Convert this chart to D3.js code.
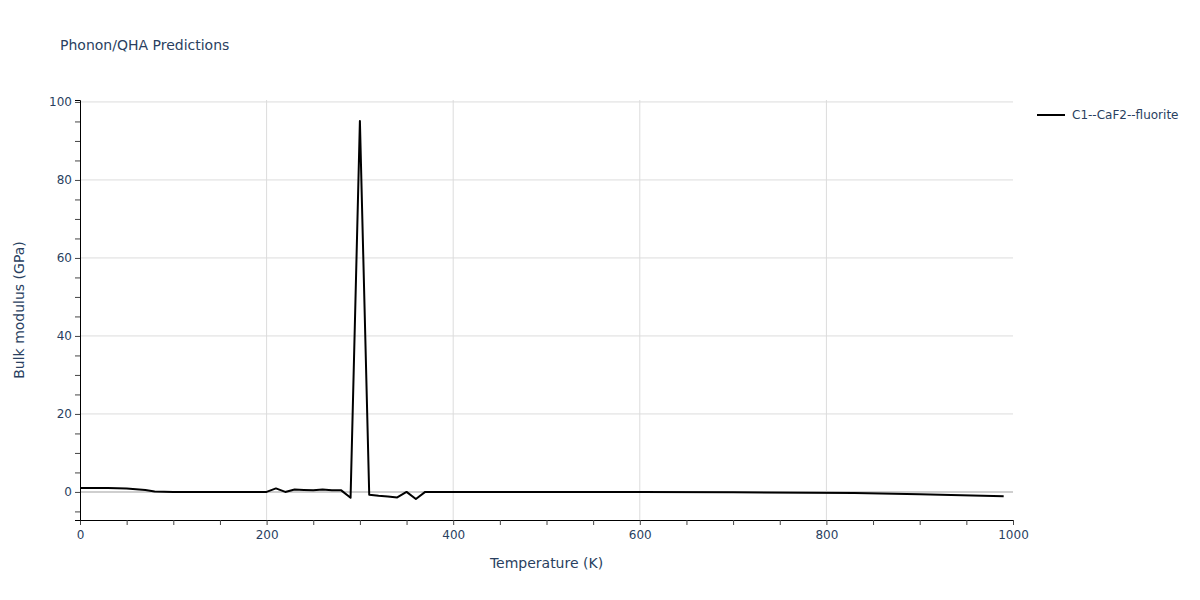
<!DOCTYPE html>
<html>
<head>
<meta charset="utf-8">
<script src="https://cdn.jsdelivr.net/npm/d3@7"></script>
<style>
  body { margin: 0; background: #fff; }
  text { font-family: "DejaVu Sans", verdana, sans-serif; fill: #2a3f5f; }
</style>
</head>
<body>
<script>
// temperatures (K) and bulk modulus (GPa)
var temps = [0, 10, 20, 30, 40, 50, 60, 70, 80, 90, 100, 150, 200, 210, 220, 230, 240, 250,
  260, 270, 280, 290, 300, 310, 320, 330, 340, 350, 360, 370, 400, 500, 600, 700, 830, 900, 990];
var bulk = [1.0, 1.0, 1.0, 1.0, 0.95, 0.9, 0.7, 0.5, 0.1, 0.05, 0.0, 0.0, 0.0, 0.9, 0.0, 0.6, 0.5, 0.4,
  0.6, 0.4, 0.4, -1.5, 95.1, -0.7, -1.0, -1.2, -1.4, 0.0, -1.8, 0.0, 0.0, 0.0, 0.0, -0.1, -0.3, -0.6, -1.1];
var seriesName = "C1--CaF2--fluorite";
var xTicks = [0, 200, 400, 600, 800, 1000];
var yTicks = [0, 20, 40, 60, 80, 100];

var w = 1200, h = 600;
var margin = {left: 80, right: 187, top: 100, bottom: 80};
var fontStack = "'DejaVu Sans', verdana, sans-serif";

var svg = d3.select("body").append("svg")
  .attr("width", w)
  .attr("height", h);

var xScale = d3.scaleLinear().domain([0, 1000]).range([margin.left, w - margin.right]);
var yScale = d3.scaleLinear().domain([-7.2, 100.5]).range([h - margin.bottom, margin.top]);

// grid lines
svg.append("g")
  .selectAll("line")
  .data(xTicks.slice(1, -1))
  .enter().append("line")
  .attr("x1", function(d) { return xScale(d); })
  .attr("x2", function(d) { return xScale(d); })
  .attr("y1", yScale.range()[0])
  .attr("y2", yScale.range()[1])
  .attr("stroke", "#dcdcdc").attr("stroke-width", 1);

svg.append("g")
  .selectAll("line")
  .data(yTicks)
  .enter().append("line")
  .attr("x1", xScale.range()[0])
  .attr("x2", xScale.range()[1])
  .attr("y1", function(d) { return yScale(d); })
  .attr("y2", function(d) { return yScale(d); })
  .attr("stroke", function(d) { return d === 0 ? "#cfcfcf" : "#dcdcdc"; })
  .attr("stroke-width", function(d) { return d === 0 ? 2 : 1; });

// x-axis
var xAxis = svg.append("g")
  .attr("transform", "translate(0," + (h - margin.bottom) + ")")
  .call(d3.axisBottom(xScale).tickValues(d3.range(0, 1001, 50)).tickSize(5)
    .tickFormat(function(d) { return d % 200 === 0 ? d : ""; }));
xAxis.select(".domain").attr("stroke", "#000");
xAxis.selectAll(".tick line").attr("stroke", "#444");
xAxis.selectAll("text").attr("font-size", 12).attr("dy", "0.9em")
  .style("font-family", fontStack).attr("fill", "#2a3f5f");

// y-axis
var yAxis = svg.append("g")
  .attr("transform", "translate(" + margin.left + ",0)")
  .call(d3.axisLeft(yScale).tickValues(d3.range(-5, 101, 5)).tickSize(5)
    .tickFormat(function(d) { return d % 20 === 0 ? d : ""; }));
yAxis.select(".domain").attr("stroke", "#000");
yAxis.selectAll(".tick line").attr("stroke", "#444");
yAxis.selectAll("text").attr("font-size", 12).attr("x", -8)
  .style("font-family", fontStack).attr("fill", "#2a3f5f");

// line
var line = d3.line()
  .x(function(d, i) { return xScale(temps[i]); })
  .y(function(d) { return yScale(d); });

svg.append("path")
  .datum(bulk)
  .attr("d", line)
  .attr("fill", "none")
  .attr("stroke", "#000")
  .attr("stroke-width", 2)
  .attr("stroke-linejoin", "round");

// title
svg.append("text")
  .attr("x", 60).attr("y", 50)
  .attr("font-size", 14)
  .text("Phonon/QHA Predictions");

// axis titles
svg.append("text")
  .attr("x", (xScale.range()[0] + xScale.range()[1]) / 2)
  .attr("y", 568)
  .attr("text-anchor", "middle")
  .attr("font-size", 14)
  .text("Temperature (K)");

svg.append("text")
  .attr("transform", "translate(24," + ((yScale.range()[0] + yScale.range()[1]) / 2) + ") rotate(-90)")
  .attr("text-anchor", "middle")
  .attr("font-size", 14)
  .text("Bulk modulus (GPa)");

// legend
svg.append("line")
  .attr("x1", 1037).attr("x2", 1065)
  .attr("y1", 115).attr("y2", 115)
  .attr("stroke", "#000").attr("stroke-width", 2);
svg.append("text")
  .attr("x", 1072).attr("y", 119)
  .attr("font-size", 12)
  .text(seriesName);
</script>
</body>
</html>
